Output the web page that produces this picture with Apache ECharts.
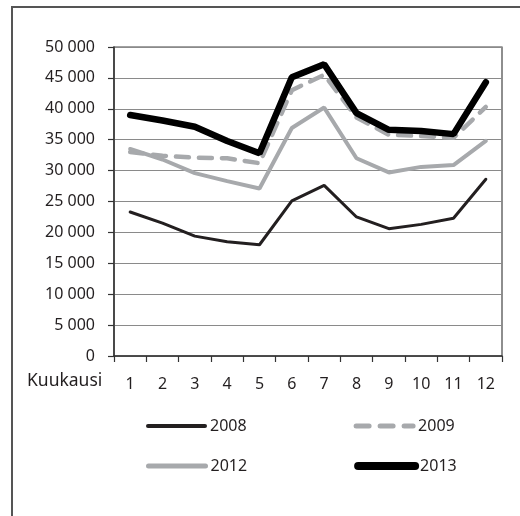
<!DOCTYPE html>
<html>
<head>
<meta charset="utf-8">
<script src="https://cdn.jsdelivr.net/npm/echarts@6/dist/echarts.min.js"></script>
<style>
html, body { margin: 0; padding: 0; background: #fff; }
#main { width: 520px; height: 516px; }
</style>
</head>
<body>
<div id="main"></div>
<script>
var myChart = echarts.init(document.getElementById('main'));

var months = ['1', '2', '3', '4', '5', '6', '7', '8', '9', '10', '11', '12'];
var v2008 = [23300, 21500, 19400, 18500, 18000, 25100, 27600, 22500, 20600, 21300, 22300, 28600];
var v2009 = [33000, 32400, 32100, 32000, 31200, 43000, 45500, 38600, 35800, 35600, 35300, 40300];
var v2012 = [33500, 31800, 29600, 28300, 27100, 36900, 40200, 32000, 29700, 30600, 30900, 34800];
var v2013 = [39000, 38100, 37100, 34800, 32800, 45100, 47200, 39300, 36600, 36400, 35900, 44300];

var font = 'Noto Sans';
var ink = '#231f20';
var grey = '#a7a9ac';

function thousands(v) {
    if (v < 1000) return String(v);
    return Math.floor(v / 1000) + ' 000';
}

// shared legend look, no marker dot on the line icons
var legendBase = {
    left: 141,
    itemWidth: 57, itemHeight: 14, itemGap: 107,
    itemStyle: { opacity: 0 },
    textStyle: { fontFamily: font, fontSize: 16, color: ink }
};

var option = {
    animation: false,
    textStyle: { fontFamily: font },
    grid: {
        left: 114, right: 18, top: 47, bottom: 160,
        show: true, borderColor: '#444', borderWidth: 1.2
    },
    legend: [
        echarts.util.extend({
            top: 413,
            data: [
                { name: '2008', lineStyle: { width: 4, cap: 'round' } },
                { name: '2009', lineStyle: { width: 5, type: [13, 11], cap: 'round' } }
            ]
        }, legendBase),
        echarts.util.extend({
            top: 453,
            data: [
                { name: '2012', lineStyle: { width: 5, cap: 'round' } },
                { name: '2013', lineStyle: { width: 8, cap: 'round' } }
            ]
        }, legendBase)
    ],
    xAxis: {
        type: 'category',
        data: months,
        boundaryGap: true,
        axisLine: { lineStyle: { color: '#333', width: 1.5 } },
        axisTick: { show: true, length: 6, lineStyle: { color: '#333', width: 1.2 } },
        axisLabel: { margin: 20, fontSize: 16, color: ink, fontFamily: font },
        splitLine: { show: false }
    },
    yAxis: {
        type: 'value',
        min: 0, max: 50000, interval: 5000,
        axisLine: { show: true, lineStyle: { color: '#333', width: 1.5 } },
        axisTick: { show: true, length: 6, lineStyle: { color: '#333', width: 1.2 } },
        axisLabel: { margin: 19, fontSize: 16, color: ink, fontFamily: font, formatter: thousands },
        splitLine: { lineStyle: { color: '#8a8a8a', width: 1.2 } }
    },
    graphic: [
        {
            // outer frame, only top and left edges are inside the picture
            type: 'polyline',
            shape: { points: [[12, 520], [12, 7], [520, 7]] },
            style: { fill: null, stroke: '#555', lineWidth: 2 },
            silent: true
        },
        {
            type: 'text',
            left: 27, top: 372,
            style: { text: 'Kuukausi', fontFamily: font, fontSize: 17.5, fill: ink }
        }
    ],
    series: [
        {
            name: '2008', type: 'line', data: v2008, symbol: 'none',
            lineStyle: { color: ink, width: 3, cap: 'round' },
            itemStyle: { color: ink }
        },
        {
            name: '2009', type: 'line', data: v2009, symbol: 'none',
            lineStyle: { color: grey, width: 4.5, type: [13, 10], cap: 'round' },
            itemStyle: { color: grey }
        },
        {
            name: '2012', type: 'line', data: v2012, symbol: 'none',
            lineStyle: { color: grey, width: 4, cap: 'round' },
            itemStyle: { color: grey }
        },
        {
            name: '2013', type: 'line', data: v2013, symbol: 'none',
            lineStyle: { color: '#000', width: 6.5, cap: 'round' },
            itemStyle: { color: '#000' }
        }
    ]
};

myChart.setOption(option);
</script>
</body>
</html>
